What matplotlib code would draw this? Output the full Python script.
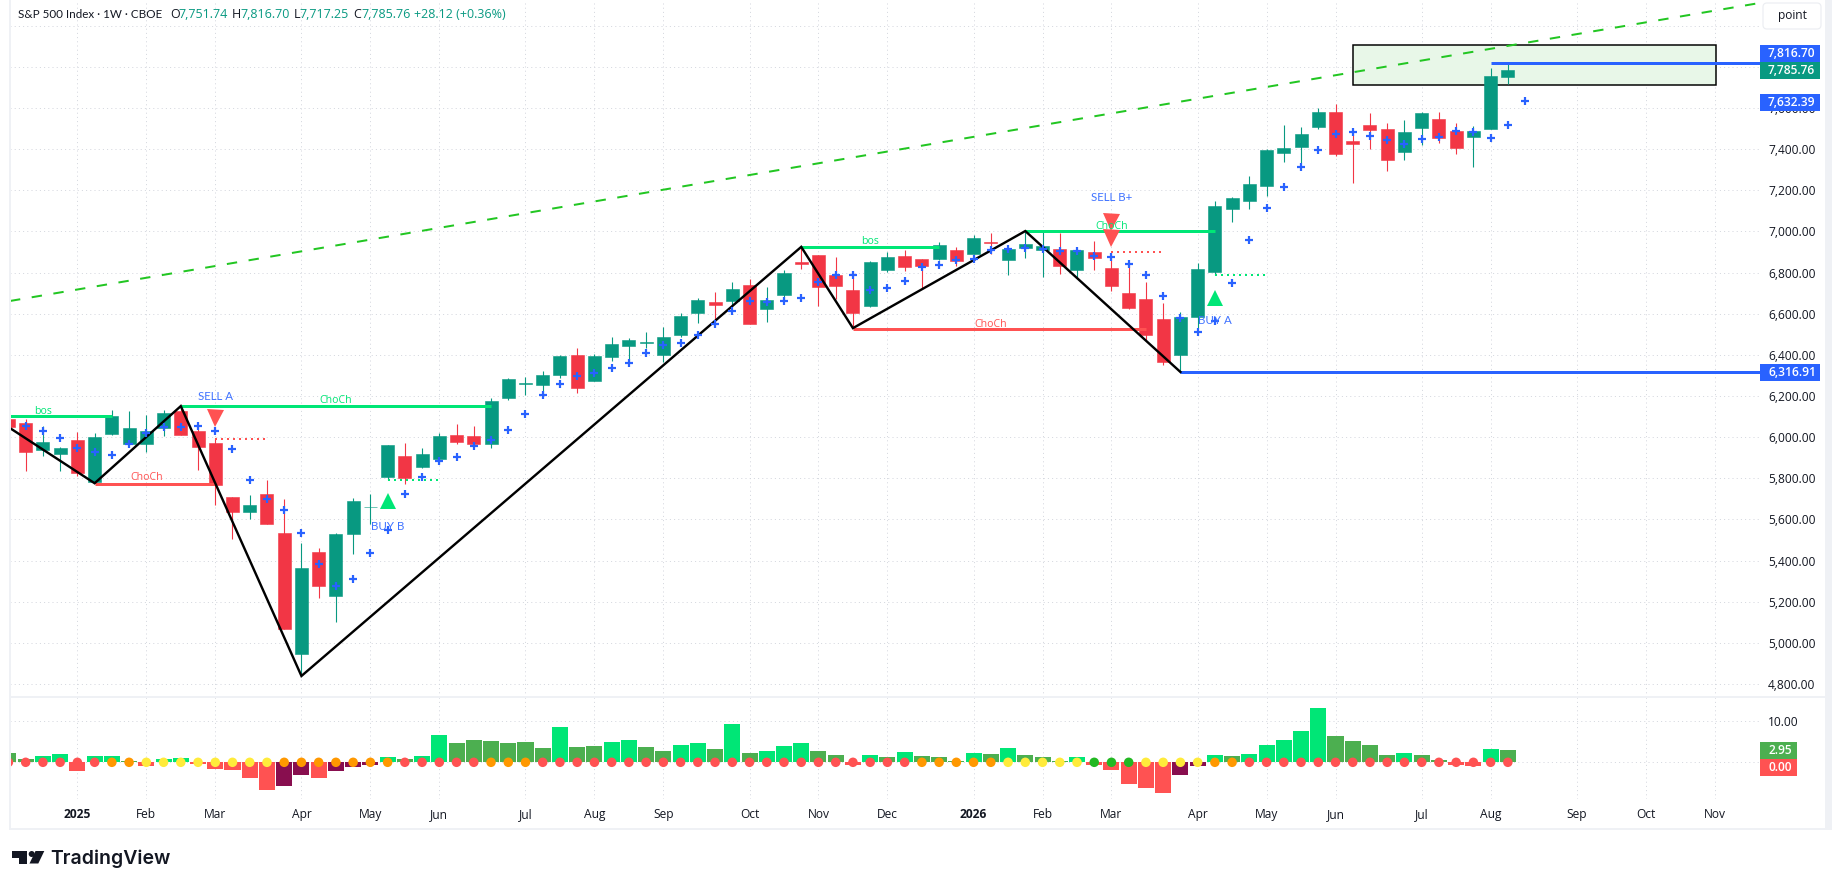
import numpy as np
import matplotlib
matplotlib.use("Agg")
import matplotlib.pyplot as plt
from matplotlib.patches import Rectangle, Polygon, Circle, FancyBboxPatch

plt.rcParams['font.family'] = ['Open Sans', 'DejaVu Sans']

# ---------- data ----------
first_bar = -1
opens = [6088,6068,5938,5917,5985,5780,6015,5966,5966,6044,6127,6029,5971,5707,5634,5722,5532,4946,5444,5229,5527,5659,5805,5907,5854,5893,6010,6005,
         5966,6189,6260,6252,6301,6398,6272,6389,6442,6458,6398,6496,6603,6657,6662,6740,6623,6691,6852,6886,6789,6715,6637,6813,6881,6867,6867,6911,6891,6948,
         6860,6919,6909,6914,6811,6899,6821,6699,6670,6572,6397,6582,6802,7109,7148,7221,7382,7411,7509,7582,7441,7519,7499,7387,7504,7548,7489,7460,7499,7751.74]
highs = [6100,6088,6054,5951,6024,6020,6132,6127,6107,6132,6151,6063,5995,5707,5717,5790,5698,5485,5459,5532,5702,5722,5961,5971,5946,6020,6063,6054,
         6190,6286,6291,6320,6398,6433,6403,6486,6481,6511,6535,6603,6676,6706,6754,6769,6730,6813,6925,6886,6876,6802,6857,6901,6911,6867,6950,6925,6984,6993,
         6928,6997,6997,6992,6914,6953,6893,6841,6753,6650,6607,6846,7148,7167,7270,7400,7519,7509,7602,7621,7485,7577,7528,7543,7582,7582,7528,7514,7797,7816.70]
lows = [6030,5834,5907,5834,5810,5776,6010,5961,5927,6005,6010,5839,5668,5507,5600,5576,5068,4839,5220,5102,5434,5580,5790,5771,5849,5868,5966,5966,
        5946,6179,6203,6203,6286,6213,6272,6369,6359,6433,6364,6486,6554,6554,6642,6550,6559,6662,6818,6637,6672,6530,6633,6803,6808,6725,6862,6833,6891,6891,
        6787,6870,6777,6792,6777,6811,6709,6621,6470,6353,6316.91,6533,6787,7046,7109,7172,7338,7333,7499,7367,7236,7402,7294,7348,7421,7431,7377,7314,7499,7717.25]
closes = [6047,5928,5976,5946,5824,6000,6102,6044,6029,6117,6010,5951,5766,5634,5668,5576,5068,5366,5278,5527,5688,5662,5961,5800,5917,6005,5976,5966,
          6176,6281,6263,6301,6394,6237,6394,6452,6472,6461,6486,6589,6667,6642,6720,6550,6667,6798,6844,6730,6735,6603,6852,6876,6828,6833,6935,6857,6969,6945,
          6914,6938,6928,6831,6909,6870,6733,6626,6499,6363,6582,6816,7124,7163,7231,7397,7407,7475,7582,7377,7426,7494,7348,7485,7577,7455,7407,7489,7757.64,7785.76]

cross_first = 0
cross_values = [6054,6029,5995,5946,5927,5912,5966,6020,6049,6047,6054,6029,5941,5790,5698,5644,5532,5385,5278,5312,5439,5551,5722,5805,5883,5902,5956,5985,
                6033,6115,6203,6257,6296,6311,6335,6359,6408,6447,6457,6496,6548,6613,6662,6657,6662,6676,6756,6789,6789,6717,6725,6759,6828,6837,6859,6867,6911,
                6917,6920,6917,6906,6906,6880,6875,6841,6787,6685,6577,6509,6563,6748,6958,7115,7216,7314,7397,7475,7485,7465,7446,7423,7450,7460,7489,7485,7455,7519,7632.39]

zigzag_bars = [-0.91, 4, 9, 16, 45, 48, 58, 67]
zigzag_prices = [6044, 5776, 6151, 4839, 6925, 6530, 7002, 6316.91]

# start bar, end bar, price, text, text bar, text price
green_levels = [(-0.91, 5, 6101, 'bos', 1, 6127), (9, 27, 6150, 'ChoCh', 18, 6177),
                (45, 53, 6924, 'bos', 49, 6951), (58, 69, 7000, 'ChoCh', 63, 7023)]
red_levels = [(4, 11, 5774, 'ChoCh', 7, 5802), (48, 65, 6524, 'ChoCh', 56, 6550)]
red_dotted = [(11, 14, 5990), (63, 66, 6901)]
green_dotted = [(21, 24, 5792), (69, 72, 6789)]
blue_levels = [(67, 6316.91), (85, 7816.70)]

sell_marks = [(11, 6091), (63, 7046), (63, 6966)]
buy_marks = [(21, 5688), (69, 6675)]
signal_texts = [('SELL A', 11, 6200), ('BUY B', 21, 5567), ('SELL B+', 63, 7164), ('BUY A', 69, 6567)]

trend_bars = [-0.91, 100.63]
trend_prices = [6662, 8111]
zone_bars = (77, 98.05)
zone_prices = (7714, 7908)

momentum = [2.3,.7,1.5,2.0,-2.1,1.5,1.5,.2,-.9,.8,1.1,-.3,-1.6,-1.9,-3.8,-6.7,-5.8,-3.1,-3.8,-2.1,-1.1,-.7,1.3,.7,1.5,6.7,4.7,5.4,5.2,4.7,5.0,3.5,8.6,3.7,4.0,5.0,5.4,3.7,2.8,4.2,4.7,3.3,9.3,
            2.3,2.8,4.0,4.7,2.8,1.8,-.7,1.8,1.3,2.5,1.5,1.3,.3,2.3,2.0,3.5,1.8,1.3,.3,1.3,-.7,-1.9,-5.3,-6.3,-7.5,-3.1,-.8,1.8,1.5,2.0,4.2,5.4,7.6,13.3,6.4,5.2,4.2,1.8,2.3,1.8,.6,-.7,-.8,3.25,2.95]
momentum_state = list("DDLLR" "LLDRL" "LRRRR" "RMMRM" "MMLDL" "LDDDD" "DDLDD" "LLDDL" "LDLDL" "LLDDR" "LDLDD" "DLDLD" "DDLRR" "RRRMM" "LDLLL" "LLDDD" "DLDDR" "RLD")
squeeze_state = list("RRRRRR" "OO" "YYYYYYYY" "OOOOOOO" "RRRRR" "OOO" "RRRRRRRRRRRRRRRRRRRRRR" "OOOOO" "YYYYY" "GGG" "YYYY" "OO" "RRRRRRRRRRRRRRRR")

month_bars = [3, 7, 11, 16, 20, 24, 29, 33, 37, 42, 46, 50, 55, 59, 63, 68, 72, 76, 81, 85, 90, 94, 98]
month_labels = ['2025','Feb','Mar','Apr','May','Jun','Jul','Aug','Sep','Oct','Nov','Dec','2026','Feb','Mar','Apr','May','Jun','Jul','Aug','Sep','Oct','Nov']
price_ticks = list(range(4800, 8001, 200))
mom_ticks = [0, 10]

# ---------- styles ----------
UP, DOWN = '#089981', '#f23645'
BLUE = '#2962ff'
LIME, RED2 = '#00e676', '#ff5252'
HIST = {'L': LIME, 'D': '#4caf50', 'R': RED2, 'M': '#880e4f'}
DOTS = {'R': RED2, 'O': '#ff9800', 'Y': '#ffeb3b', 'G': '#22b822'}
GRID = '#d4d7de'
TXT = '#131722'
W, H = 1835, 889
PX = 0.72  # points per pixel at dpi 100

fig = plt.figure(figsize=(W/100, H/100), dpi=100, facecolor='white')
L, R, T1, B1, B2 = 10, 1760, 0, 697, 799
ax = fig.add_axes([L/W, (H-B1)/H, (R-L)/W, (B1-T1)/H])
ax2 = fig.add_axes([L/W, (H-B2)/H, (R-L)/W, (B2-B1)/H])
for a in (ax, ax2):
    a.set_xlim(-0.91, 100.63)
    for s in a.spines.values():
        s.set_visible(False)
    a.set_xticks(month_bars)
    a.grid(True, color=GRID, lw=PX, ls=(0, (1, 3.2)))
    a.set_axisbelow(True)
    a.yaxis.tick_right()
    a.tick_params(length=0, labelsize=12*PX, labelcolor=TXT)
    a.tick_params(axis='y', pad=8*PX)
ax.set_ylim(4736.8, 8125.2)
ax.set_yticks(price_ticks)
ax.set_yticklabels([f'{v:,.2f}' if v < 7700 else '' for v in price_ticks])
ax.tick_params(axis='x', labelbottom=False)
ax2.set_ylim(-8.95, 15.93)
ax2.set_yticks(mom_ticks)
ax2.set_yticklabels([f'{v:.2f}' if v else '' for v in mom_ticks])
ax2.set_xticklabels(month_labels)
ax2.tick_params(axis='x', pad=9*PX)
for lb, s in zip(ax2.get_xticklabels(), month_labels):
    if s.startswith('20'):
        lb.set_fontweight('bold')

# zone and trend
ax.add_patch(Rectangle((zone_bars[0], zone_prices[0]), zone_bars[1]-zone_bars[0], zone_prices[1]-zone_prices[0],
                       fc='#e8f7e8', ec='black', lw=1.5*PX, zorder=1.5))
ax.plot(trend_bars, trend_prices, color='#22c622', lw=2*PX, ls=(0, (5.2, 5.8)), zorder=2)

# candles
idx = np.arange(first_bar, first_bar + len(opens))
o, h, l, c = map(np.array, (opens, highs, lows, closes))
cols = [UP if ci >= oi else DOWN for oi, ci in zip(o, c)]
ax.vlines(idx, l, h, colors=cols, lw=1.1*PX, zorder=3)
ax.bar(idx, np.abs(c-o), bottom=np.minimum(o, c), width=0.755, color=cols, edgecolor=cols, lw=0.4, zorder=3.1)

# levels
for x0, x1, p, t, tx, tp in green_levels:
    ax.plot([x0, x1], [p, p], color=LIME, lw=3*PX, solid_capstyle='butt', zorder=4)
    ax.text(tx, tp, t, color=LIME, fontsize=10.5*PX, ha='center', va='center', zorder=6)
for x0, x1, p, t, tx, tp in red_levels:
    ax.plot([x0, x1], [p, p], color=RED2, lw=3*PX, solid_capstyle='butt', zorder=4)
    ax.text(tx, tp, t, color=RED2, fontsize=10.5*PX, ha='center', va='center', zorder=6)
for x0, x1, p in red_dotted:
    ax.plot([x0, x1], [p, p], color=RED2, lw=2*PX, ls=(0, (1, 2)), zorder=4)
for x0, x1, p in green_dotted:
    ax.plot([x0, x1], [p, p], color=LIME, lw=2*PX, ls=(0, (1, 2)), zorder=4)
for x0, p in blue_levels:
    ax.plot([x0, 100.63], [p, p], color=BLUE, lw=3*PX, solid_capstyle='butt', zorder=4)

# zigzag
ax.plot(zigzag_bars, zigzag_prices, color='black', lw=2.4*PX, zorder=5, solid_joinstyle='miter')

# triangles
ax.plot(*zip(*sell_marks), 'v', color=RED2, ms=17*PX, mew=0, ls='none', zorder=5.5)
ax.plot(*zip(*buy_marks), '^', color=LIME, ms=16.5*PX, mew=0, ls='none', zorder=5.5)

# crosses
cx = np.arange(cross_first, cross_first + len(cross_values))
ax.plot(cx, cross_values, ls='none', marker='+', color=BLUE, ms=7.5*PX, mew=2.2*PX, zorder=6)

for t, x, p in signal_texts:
    ax.text(x, p, t, color='#3f72ff', fontsize=11.5*PX, ha='center', va='center', zorder=7, family=['Lato', 'DejaVu Sans'])

# momentum pane
ix2 = np.arange(first_bar, first_bar + len(momentum))
ax2.bar(ix2, momentum, width=0.93, color=[HIST[s] for s in momentum_state], zorder=3)
ax2.scatter(ix2, np.zeros(len(ix2)), s=(9.5*PX)**2, c=[DOTS[s] for s in squeeze_state], lw=0, zorder=4)

# ---------- chrome ----------
ov = fig.add_axes([0, 0, 1, 1], zorder=10)
ov.set_xlim(0, W)
ov.set_ylim(H, 0)
ov.axis('off')
ov.patch.set_alpha(0)
STRIP = '#eff1f5'
for xy, w, hh in [((9, 0), 2, 830), ((9, 696), 1816, 2), ((9, 828), 1823, 2), ((1825, 0), 7, 830)]:
    ov.add_patch(Rectangle(xy, w, hh, fc=STRIP, ec='none'))

def badge(x0, x1, y0, y1, col, txt):
    ov.add_patch(Rectangle((x0, y0), x1-x0, y1-y0, fc=col, ec='none'))
    ov.text(1768, (y0+y1)/2, txt, color='white', fontsize=12*PX, ha='left', va='center', fontweight='semibold')

badge(1760, 1820, 45, 62, BLUE, '7,816.70')
badge(1760, 1820, 62, 79, UP, '7,785.76')
badge(1760, 1820, 94, 110.7, BLUE, '7,632.39')
badge(1760, 1820, 364, 381, BLUE, '6,316.91')
badge(1760, 1797, 742, 759, '#4caf50', '2.95')
badge(1760, 1797, 759, 776, RED2, '0.00')

ov.add_patch(FancyBboxPatch((1765, 5), 54, 22, boxstyle='round,pad=2,rounding_size=4', fc='white', ec='#eceef2', lw=1.2*PX))
ov.text(1792, 16, 'point', color=TXT, fontsize=12*PX, ha='center', va='center')

hy = 14
fs = 12.5*PX
ov.text(18, hy, 'S&P 500 Index · 1W · CBOE', color=TXT, fontsize=11.6*PX, ha='left', va='center', family=['Lato', 'DejaVu Sans'])
for t, x, col in [('O', 170, TXT), ('7,751.74', 178.5, UP), ('H', 231.5, TXT),
                  ('7,816.70', 240, UP), ('L', 294, TXT), ('7,717.25', 299.5, UP), ('C', 353, TXT),
                  ('7,785.76', 361, UP), ('+28.12 (+0.36%)', 414, UP)]:
    ov.text(x, hy, t, color=col, fontsize=fs, ha='left', va='center')

# logo
INK = '#131722'
ov.add_patch(Polygon([(11.7, 851), (26.7, 851), (26.7, 863.5), (19, 863.5), (19, 858), (11.7, 858)], fc=INK, ec='none'))
ov.add_patch(Circle((31.7, 854), 3, fc=INK, ec='none'))
ov.add_patch(Polygon([(35.5, 851), (44.3, 851), (38.3, 863.5), (29.5, 863.5)], fc=INK, ec='none'))
ov.text(50.5, 864.5, 'TradingView', color=INK, fontsize=19.5*PX, ha='left', va='baseline', family=['Inter', 'DejaVu Sans'], fontweight='semibold')

fig.savefig('out.png', dpi=100, facecolor='white')
